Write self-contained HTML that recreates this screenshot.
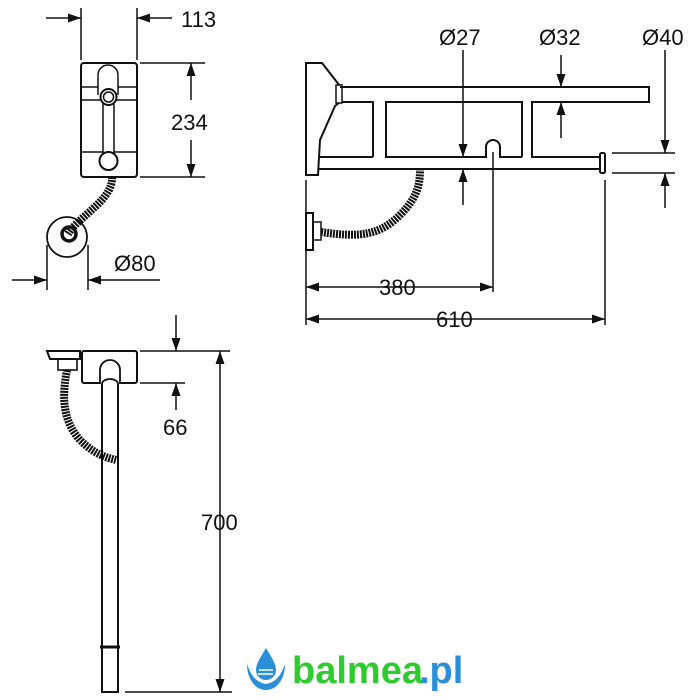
<!DOCTYPE html>
<html><head><meta charset="utf-8"><style>
html,body{margin:0;padding:0;background:#fff;width:700px;height:700px;overflow:hidden}
text{font-family:"Liberation Sans",sans-serif;font-size:22px;fill:#111}
</style></head><body>
<svg width="700" height="700" viewBox="0 0 700 700" xmlns="http://www.w3.org/2000/svg">
<defs>
<marker id="a" viewBox="0 0 10 10" refX="10" refY="5" markerWidth="13" markerHeight="9" orient="auto-start-reverse" markerUnits="userSpaceOnUse" preserveAspectRatio="none"><path d="M0,0 L10,5 L0,10z" fill="#111"/></marker>
</defs>
<g stroke="#111" stroke-width="1.5" fill="none">
<!-- top-left front view -->
<rect x="81" y="63" width="56" height="114" rx="3" stroke-width="2"/>
<path d="M98,95 V75 a10,10 0 0 1 20,0 V95"/>
<line x1="81" y1="87" x2="98" y2="87"/><line x1="118" y1="87" x2="137" y2="87"/>
<line x1="81" y1="100" x2="137" y2="100"/>
<line x1="81" y1="152" x2="137" y2="152"/>
<rect x="103" y="98" width="11" height="60" fill="#fff"/>
<circle cx="108.5" cy="97" r="8" fill="#fff" stroke-width="2"/>
<circle cx="108.5" cy="97" r="5"/>
<circle cx="108.5" cy="161" r="9" fill="#fff" stroke-width="2"/>
<path d="M112,177 C113,200 80,215 68,234" stroke="#111" stroke-width="8" stroke-dasharray="2 1"/>
<circle cx="67" cy="237" r="20" stroke-width="1.8"/>
<circle cx="69" cy="234" r="7" stroke-width="3.5"/>
<!-- dims 113 -->
<line x1="81" y1="8" x2="81" y2="60"/><line x1="137" y1="8" x2="137" y2="60"/>
<line x1="46" y1="18" x2="81" y2="18" marker-end="url(#a)"/>
<line x1="172" y1="18" x2="137" y2="18" marker-end="url(#a)"/>
<!-- 234 -->
<line x1="140" y1="63" x2="205" y2="63"/><line x1="140" y1="177" x2="205" y2="177"/>
<line x1="191" y1="100" x2="191" y2="63" marker-end="url(#a)"/>
<line x1="191" y1="140" x2="191" y2="177" marker-end="url(#a)"/>
<!-- Ø80 -->
<line x1="47" y1="245" x2="47" y2="290"/><line x1="88" y1="245" x2="88" y2="290"/>
<line x1="12" y1="280" x2="47" y2="280" marker-end="url(#a)"/>
<line x1="160" y1="280" x2="88" y2="280" marker-end="url(#a)"/>

<!-- right top view -->
<path d="M306,63 H322 L340,86 V102 L335,106 L320,140 L318,175 H306 Z" stroke-width="2" fill="#fff"/>
<rect x="336" y="85" width="6" height="18" fill="#fff"/>
<path d="M340,87 H649 V102 H532 V157 H600 M522,157 V102 H386 V157 H486 V147 a7,7 0 0 1 14,0 V157 H522 M373,157 V102 H342 M373,157 H318 M318,169 H600" stroke-width="2"/>
<rect x="600" y="153" width="5" height="20" rx="1.5" fill="#fff" stroke-width="2"/>
<path d="M306,213 H313 V250 H306 Z" stroke-width="2"/>
<rect x="313" y="222" width="8" height="18"/>
<path d="M321,232 C360,238 380,235 400,215 C417,198 420,185 420,170" stroke="#111" stroke-width="8" stroke-dasharray="2 1"/>
<!-- dims right -->
<line x1="463" y1="50" x2="463" y2="157" marker-end="url(#a)"/>
<line x1="463" y1="205" x2="463" y2="169" marker-end="url(#a)"/>
<line x1="561" y1="55" x2="561" y2="87" marker-end="url(#a)"/>
<line x1="561" y1="138" x2="561" y2="102" marker-end="url(#a)"/>
<line x1="665" y1="50" x2="665" y2="153" marker-end="url(#a)"/>
<line x1="665" y1="208" x2="665" y2="173" marker-end="url(#a)"/>
<line x1="612" y1="153" x2="675" y2="153"/><line x1="612" y1="173" x2="675" y2="173"/>
<line x1="306" y1="180" x2="306" y2="325"/>
<line x1="493" y1="152" x2="493" y2="292"/>
<line x1="605" y1="180" x2="605" y2="325"/>
<line x1="306" y1="287" x2="493" y2="287" marker-start="url(#a)" marker-end="url(#a)"/>
<line x1="306" y1="319" x2="605" y2="319" marker-start="url(#a)" marker-end="url(#a)"/>

<!-- bottom side view -->
<path d="M47,351 H80 V359 H50 Z" stroke-width="2"/>
<rect x="58" y="359" width="19" height="11" stroke-width="1.6"/>
<rect x="82" y="351" width="55" height="32" rx="2" stroke-width="2"/>
<rect x="102" y="380" width="16" height="312" stroke-width="2" fill="#fff"/>
<path d="M100,384 V370 a10,10 0 0 1 20,0 V384 M102,384 a8,5 0 0 1 16,0" stroke-width="1.8" fill="#fff"/>
<path d="M67,370 C62,395 62,420 80,440 C95,455 108,458 116,460" stroke="#111" stroke-width="8" stroke-dasharray="2 1"/>
<line x1="140" y1="351" x2="230" y2="351"/>
<line x1="140" y1="383" x2="185" y2="383"/>
<line x1="176" y1="315" x2="176" y2="351" marker-end="url(#a)"/>
<line x1="176" y1="410" x2="176" y2="383" marker-end="url(#a)"/>
<line x1="125" y1="692" x2="232" y2="692"/>
<line x1="220" y1="351" x2="220" y2="692" marker-start="url(#a)" marker-end="url(#a)"/>
</g>
<g stroke="#111" stroke-width="3"><line x1="100" y1="647" x2="120" y2="647"/></g>
<text x="181" y="27">113</text>
<text x="171" y="130">234</text>
<text x="114" y="271">Ø80</text>
<text x="439" y="45">Ø27</text>
<text x="539" y="45">Ø32</text>
<text x="642" y="45">Ø40</text>
<text x="379" y="295">380</text>
<text x="436" y="327">610</text>
<text x="163" y="435">66</text>
<text x="201" y="530">700</text>
<!-- logo -->
<g>
<path d="M266,648 C260,658 256,664 256,670 a10,10 0 0 0 20,0 C276,664 272,658 266,648Z" fill="#2a8fd8"/>
<path d="M247,664 C247,680 256,690 266,690 C276,690 285,680 285,664 C282,672 278,682 266,684 C254,682 250,672 247,664Z" fill="#2a8fd8"/>
<path d="M259,670 h14 M258,674 h15" stroke="#fff" stroke-width="1.5"/>
<text x="292" y="683" style="font-size:38px;font-weight:bold;fill:#2ecb2e">balmea</text>
<text x="419" y="683" style="font-size:38px;font-weight:bold;fill:#2a8fd8">.pl</text>
</g>
</svg>
</body></html>
